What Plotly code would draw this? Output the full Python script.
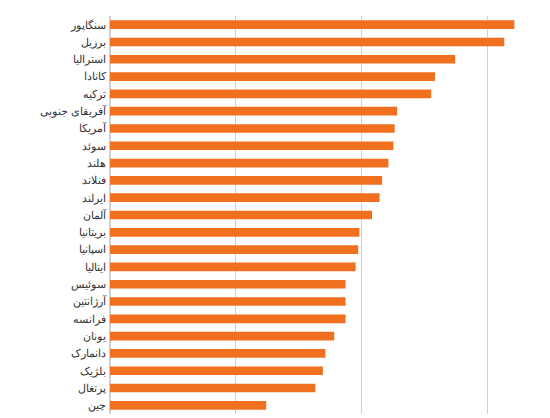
import plotly.graph_objects as go

countries = ["سنگاپور","برزیل","استرالیا","کانادا","ترکیه","آفریقای جنوبی","آمریکا","سوئد","هلند","فنلاند","ایرلند","آلمان","بریتانیا","اسپانیا","ایتالیا","سوئیس","آرژانتین","فرانسه","یونان","دانمارک","بلژیک","پرتغال","چین"]
values = [3.21,3.13,2.74,2.58,2.55,2.28,2.26,2.25,2.21,2.16,2.14,2.08,1.98,1.97,1.95,1.87,1.87,1.87,1.78,1.71,1.69,1.63,1.24]
tick_vals = [0,1,2,3]
tick_text = ["۰","۱","۲","۳"]

fig = go.Figure(go.Bar(x=values, y=countries, orientation="h",
                       marker=dict(color="#f07020", line=dict(width=0)), width=0.5))
fig.update_layout(
    width=550, height=418, plot_bgcolor="white", paper_bgcolor="white",
    margin=dict(l=102, r=26, t=8, b=12, autoexpand=False), showlegend=False,
    font=dict(family="Noto Sans", size=11, color="#333"),
)
fig.update_xaxes(range=[0,3.35], tickvals=tick_vals, ticktext=tick_text, showgrid=True,
                 gridcolor="#d0d0d0", gridwidth=1, zeroline=True, zerolinecolor="#d0d0d0",
                 tickfont=dict(size=10, color="#555"), ticklabelstandoff=0)
fig.update_yaxes(autorange="reversed", ticks="", ticklabelstandoff=3,
                 tickfont=dict(size=11, color="#333"))
fig.write_html("out.html")
